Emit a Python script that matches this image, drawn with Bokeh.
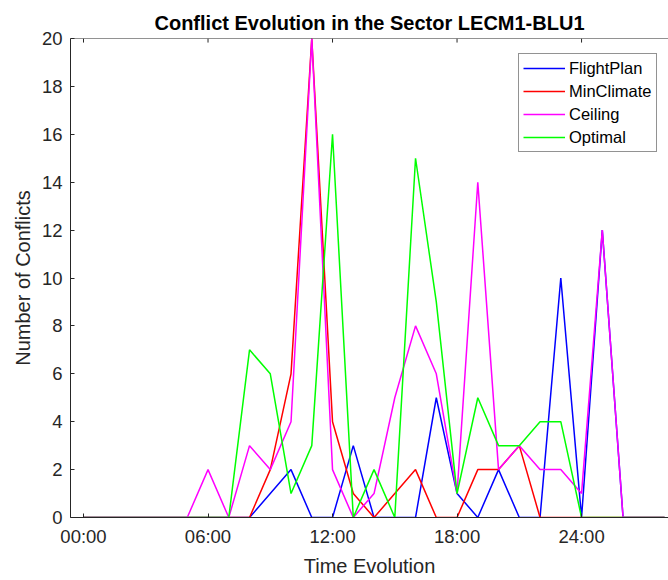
from bokeh.plotting import figure
from bokeh.models import Range1d, LinearAxis, FixedTicker, Legend, LegendItem, ColumnDataSource, Span
from bokeh.embed import file_html
from bokeh.resources import INLINE

# ---- data (hourly) ----
hours = list(range(0, 29))
flightplan = [0, 0, 0, 0, 0, 0, 0, 0, 0, 1, 2, 0, 0, 3, 0, 0, 0, 5, 1, 0, 2, 0, 0, 10, 0, 12, 0, 0, 0]
minclimate = [0, 0, 0, 0, 0, 0, 0, 0, 0, 2, 6, 20, 4, 1, 0, 1, 2, 0, 0, 2, 2, 3, 0, 0, 0, 0, 0, 0, 0]
ceiling    = [0, 0, 0, 0, 0, 0, 2, 0, 3, 2, 4, 20, 2, 0, 1, 5, 8, 6, 1, 14, 2, 3, 2, 2, 1, 12, 0, 0, 0]
optimal    = [0, 0, 0, 0, 0, 0, 0, 0, 7, 6, 1, 3, 16, 0, 2, 0, 15, 9, 1, 5, 3, 3, 4, 4, 0, 0, 0, 0, 0]

series_names = ["FlightPlan", "MinClimate", "Ceiling", "Optimal"]
series_colors = ["#0000FF", "#FF0000", "#FF00FF", "#00FF00"]
x_tick_values = [0, 6, 12, 18, 24]
x_tick_labels = ["00:00", "06:00", "12:00", "18:00", "24:00"]
y_tick_values = [0, 2, 4, 6, 8, 10, 12, 14, 16, 18, 20]

FONT = "Liberation Sans"
AX = "#262626"
Y_MAX = 20

p = figure(width=668, height=580, output_backend="svg", toolbar_location=None,
           x_range=Range1d(-0.627, 28.19), y_range=Range1d(0, Y_MAX),
           x_axis_type=None, y_axis_type=None,
           min_border_left=70, min_border_right=0, min_border_top=38, min_border_bottom=63)
p.xgrid.visible = False
p.ygrid.visible = False
p.outline_line_color = None
p.background_fill_color = "white"
p.border_fill_color = "white"

p.title.text = "Conflict Evolution in the Sector LECM1-BLU1"
p.title.align = "center"
p.title.text_font = FONT
p.title.text_font_size = "20px"
p.title.text_font_style = "bold"
p.title.text_color = "#000000"

def style_axis(ax):
    ax.axis_line_color = AX
    ax.axis_line_width = 1
    ax.major_tick_line_color = AX
    ax.major_tick_in = 4
    ax.major_tick_out = 0
    ax.minor_tick_line_color = None
    ax.major_label_text_font = FONT
    ax.major_label_text_font_size = "18.5px"
    ax.major_label_text_color = AX
    ax.axis_label_text_font = FONT
    ax.axis_label_text_font_size = "20px"
    ax.axis_label_text_font_style = "normal"
    ax.axis_label_text_color = AX

xa = LinearAxis(ticker=FixedTicker(ticks=x_tick_values), axis_label="Time Evolution")
xa.major_label_overrides = {v: l for v, l in zip(x_tick_values, x_tick_labels)}
style_axis(xa)
xa.major_label_standoff = 8
xa.axis_label_standoff = 5
p.add_layout(xa, "below")

ya = LinearAxis(ticker=FixedTicker(ticks=y_tick_values), axis_label="Number of Conflicts")
style_axis(ya)
ya.major_label_standoff = 8
ya.axis_label_standoff = 5
p.add_layout(ya, "left")

# top box edge with inward ticks (no labels)
p.add_layout(Span(location=Y_MAX, dimension="width", line_color=AX, line_width=1))
p.segment(x0=x_tick_values, y0=[Y_MAX] * len(x_tick_values),
          x1=x_tick_values, y1=[Y_MAX - 0.17] * len(x_tick_values),
          line_color=AX, line_width=1)

items = []
for name, col, ys in zip(series_names, series_colors, [flightplan, minclimate, ceiling, optimal]):
    src = ColumnDataSource(dict(x=hours, y=ys))
    r = p.line("x", "y", source=src, line_color=col, line_width=1.5)
    items.append(LegendItem(label=name, renderers=[r]))

leg = Legend(items=items, location=(448, 365))
leg.label_text_font = FONT
leg.label_text_font_size = "16.5px"
leg.label_text_color = "#000000"
leg.glyph_width = 42
leg.glyph_height = 20
leg.label_height = 20
leg.label_standoff = 4
leg.spacing = 3
leg.padding = 4
leg.margin = 0
leg.border_line_color = AX
leg.border_line_width = 1
leg.background_fill_color = "white"
leg.background_fill_alpha = 1
p.add_layout(leg, "center")

open("out.html", "w").write(file_html(p, INLINE))
